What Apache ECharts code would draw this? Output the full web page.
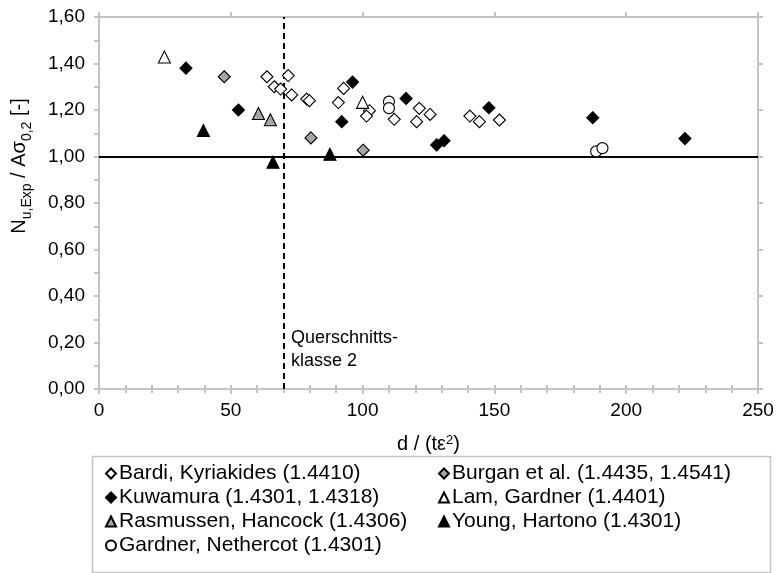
<!DOCTYPE html>
<html>
<head>
<meta charset="utf-8">
<script src="https://cdn.jsdelivr.net/npm/echarts@6/dist/echarts.min.js"></script>
<style>html,body{margin:0;padding:0;background:#fff}#c{width:779px;height:573px}</style>
</head>
<body>
<div id="c"></div>
<script>
// ---- data (d/(t·eps^2), N_u,Exp / A·sigma_0.2) ----
var seriesNames = [
  'Bardi, Kyriakides (1.4410)',
  'Burgan et al. (1.4435, 1.4541)',
  'Kuwamura (1.4301, 1.4318)',
  'Lam, Gardner (1.4401)',
  'Rasmussen, Hancock (1.4306)',
  'Young, Hartono (1.4301)',
  'Gardner, Nethercot (1.4301)'
];
var bardi = [[63.7,1.343],[71.8,1.348],[66.5,1.300],[68.9,1.290],[73.1,1.265],[78.8,1.247],[79.8,1.240],[92.8,1.293],[90.8,1.232],[102.6,1.197],[101.5,1.174],[112.0,1.160],[121.5,1.207],[125.6,1.181],[120.5,1.150],[140.7,1.174],[144.3,1.150],[151.9,1.157]];
var burgan = [[47.5,1.343],[80.4,1.080],[100.2,1.027]];
var kuwamura = [[33.0,1.380],[52.9,1.200],[96.2,1.320],[92.1,1.150],[116.5,1.250],[128.1,1.050],[130.9,1.068],[147.9,1.210],[187.3,1.167],[222.3,1.077]];
var lam = [[24.8,1.428],[100.0,1.233]];
var rasmussen = [[60.5,1.185],[65.0,1.158]];
var young = [[39.6,1.112],[66.0,0.975],[87.6,1.010]];
var gardner = [[110.0,1.236],[110.0,1.208],[188.6,1.022],[191.0,1.036]];
var xTicks = [0, 50, 100, 150, 200, 250];
var yTicks = [0, 0.2, 0.4, 0.6, 0.8, 1.0, 1.2, 1.4, 1.6];
var refLineY = 1.0;
var classLimitX = 70;

var FONT = 'Liberation Sans, Arial, sans-serif';
var AX = '#c3c3c3';
var chart = echarts.init(document.getElementById('c'), null, {renderer: 'canvas'});

function mk(name, data, symbol, size, fill) {
  return {
    type: 'scatter', name: name, data: data, symbol: symbol, symbolSize: size,
    xAxisIndex: 0, yAxisIndex: 0, z: 5,
    itemStyle: {color: fill, borderColor: '#000', borderWidth: 1.1, opacity: 1}
  };
}
var series = [
  mk(seriesNames[0], bardi, 'diamond', 12, '#fff'),
  mk(seriesNames[1], burgan, 'diamond', 12, '#a6a6a6'),
  mk(seriesNames[2], kuwamura, 'diamond', 12, '#000'),
  mk(seriesNames[3], lam, 'triangle', 12, '#fff'),
  mk(seriesNames[4], rasmussen, 'triangle', 12, '#a6a6a6'),
  mk(seriesNames[5], young, 'triangle', 12, '#000'),
  mk(seriesNames[6], gardner, 'circle', 11, '#fff')
];
series.push({
  type: 'scatter', data: [], xAxisIndex: 0, yAxisIndex: 0, z: 3, silent: true,
  markLine: {
    silent: true, symbol: 'none', animation: false, label: {show: false},
    data: [
      {yAxis: refLineY, lineStyle: {color: '#000', width: 2, type: 'solid'}},
      {xAxis: classLimitX, lineStyle: {color: '#000', width: 2, type: [6, 4]}}
    ]
  }
});

var legendPos = [[105,463],[438,463],[105,487],[438,487],[105,511],[438,511],[105,535]];
var icons = ['diamond','diamond','diamond','triangle','triangle','triangle','circle'];
var legends = seriesNames.map(function (n, i) {
  return {
    data: [{name: n, icon: icons[i]}], left: legendPos[i][0], top: legendPos[i][1],
    itemWidth: 10, itemHeight: 10, itemGap: 0, padding: 0, selectedMode: false,
    textStyle: {fontFamily: FONT, fontSize: 21, color: '#000', padding: [0, 0, 0, -2]}
  };
});

function baseAxis(extra) {
  var a = {
    type: 'value', min: 0, silent: true,
    axisLine: {show: false, lineStyle: {color: AX, width: 2}},
    axisTick: {show: false},
    axisLabel: {show: false},
    splitLine: {show: false}
  };
  for (var k in extra) a[k] = extra[k];
  return a;
}

var option = {
  animation: false,
  backgroundColor: '#fff',
  grid: {left: 99, right: 21, top: 17, bottom: 184, containLabel: false, outerBoundsMode: 'none'},
  xAxis: [
    baseAxis({position: 'bottom', max: xTicks[xTicks.length-1], interval: 50,
      name: 'd / (tε{sup|2})', nameLocation: 'middle', nameGap: 45,
      nameTextStyle: {fontFamily: FONT, fontSize: 20, color: '#000',
        rich: {sup: {fontFamily: FONT, fontSize: 13, verticalAlign: 'top', lineHeight: 20, padding: [0,0,6,0]}}},
      axisLine: {show: true, onZero: false, lineStyle: {color: AX, width: 2}},
      axisTick: {show: true, inside: false, length: 5, lineStyle: {color: AX, width: 2}},
      axisLabel: {show: true, margin: 12, fontFamily: FONT, fontSize: 19, color: '#000'}}),
    baseAxis({position: 'bottom', max: 250, interval: 10,
      axisTick: {show: true, inside: true, length: 4, lineStyle: {color: AX, width: 2}}}),
    baseAxis({position: 'top', max: 250, interval: 50,
      axisLine: {show: true, onZero: false, lineStyle: {color: AX, width: 2}},
      axisTick: {show: true, inside: false, length: 5, lineStyle: {color: AX, width: 2}}}),
    baseAxis({position: 'top', max: 250, interval: 10,
      axisTick: {show: true, inside: true, length: 4, lineStyle: {color: AX, width: 2}}})
  ],
  yAxis: [
    baseAxis({position: 'left', max: yTicks[yTicks.length-1], interval: 0.2,
      axisLine: {show: true, onZero: false, lineStyle: {color: AX, width: 2}},
      axisTick: {show: true, inside: false, length: 5, lineStyle: {color: AX, width: 2}},
      minorTick: {show: true, splitNumber: 2, length: 5, lineStyle: {color: AX, width: 2}},
      axisLabel: {show: true, margin: 14, fontFamily: FONT, fontSize: 19, color: '#000',
        formatter: function (v) { return v.toFixed(2).replace('.', ','); }}}),
    baseAxis({position: 'right', max: 1.6, interval: 0.2,
      axisLine: {show: true, onZero: false, lineStyle: {color: AX, width: 2}},
      axisTick: {show: true, inside: false, length: 5, lineStyle: {color: AX, width: 2}}}),
    baseAxis({position: 'right', max: 1.6, interval: 0.1,
      axisTick: {show: true, inside: true, length: 5, lineStyle: {color: AX, width: 2}}})
  ],
  legend: legends,
  series: series,
  graphic: [
    {type: 'rect', left: 90, top: 454, shape: {width: 678, height: 116},
      style: {fill: 'none', stroke: '#c3c3c3', lineWidth: 1.5}, silent: true, z: -1},
    {type: 'text', left: 291, top: 327, silent: true,
      style: {text: 'Querschnitts-\nklasse 2', font: '18px ' + FONT, fill: '#000', lineHeight: 23}},
    {type: 'text', x: 19, y: 166, rotation: Math.PI / 2, silent: true,
      style: {
        text: 'N{sub|u,Exp} / Aσ{sub|0,2} [-]',
        fontFamily: FONT, fontSize: 20, fill: '#000', align: 'center', verticalAlign: 'middle',
        lineHeight: 26,
        rich: {sub: {fontFamily: FONT, fontSize: 14, fill: '#000', verticalAlign: 'bottom', lineHeight: 14, padding: [0,0,-2,0]}}
      }}
  ]
};
chart.setOption(option);
</script>
</body>
</html>
